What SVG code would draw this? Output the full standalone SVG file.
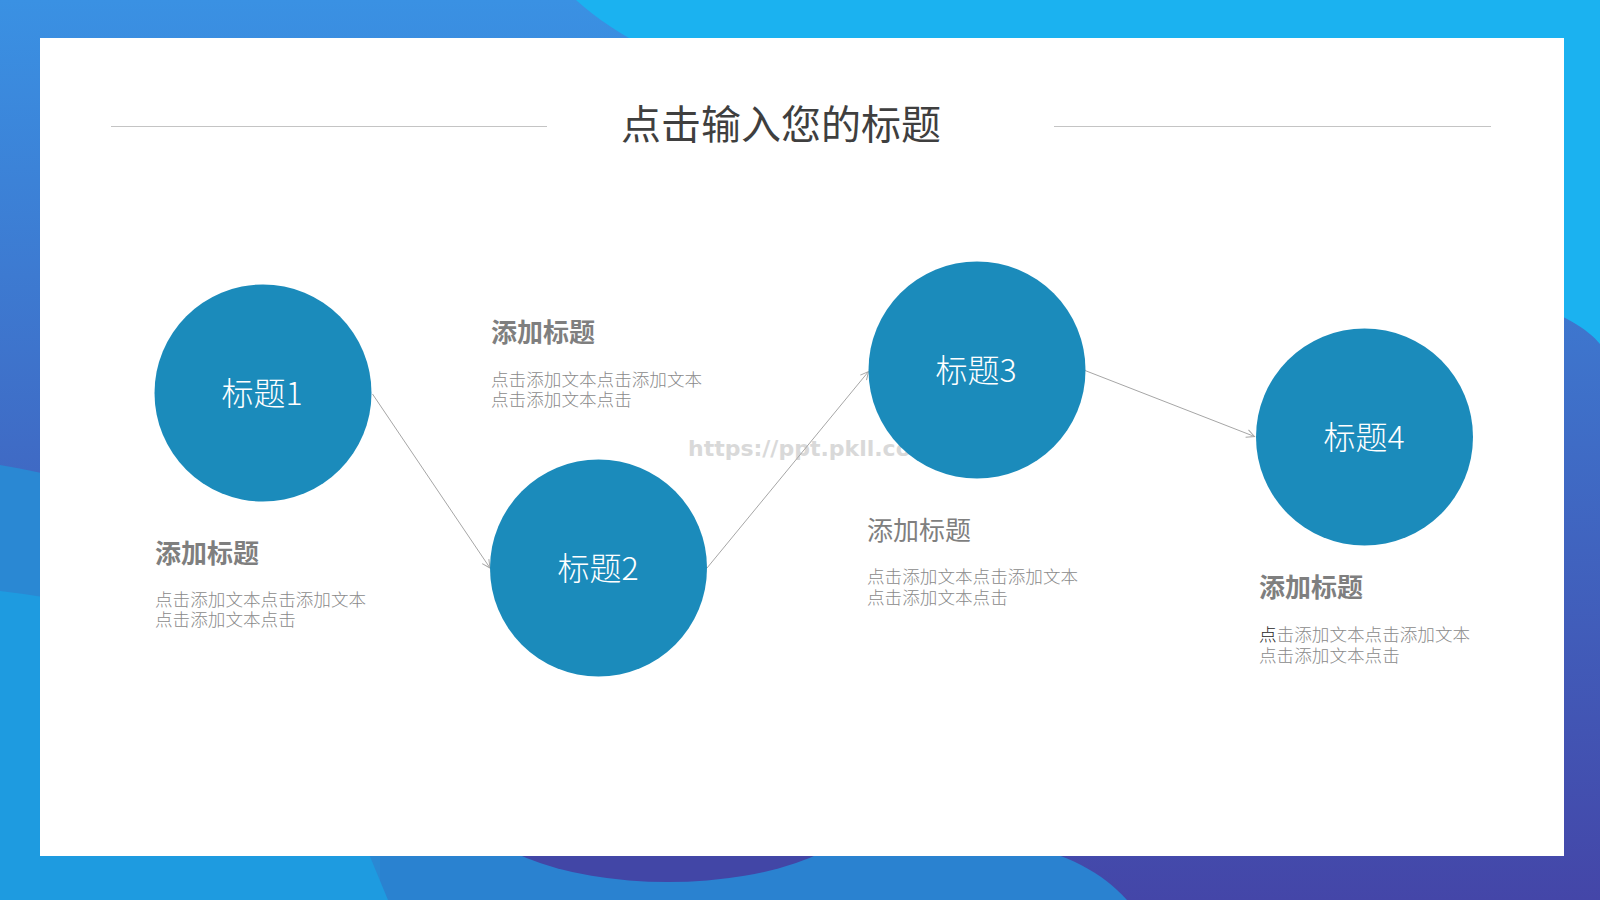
<svg xmlns="http://www.w3.org/2000/svg" width="1600" height="900" viewBox="0 0 1600 900">
  <defs>
    <linearGradient id="bg" x1="0" y1="0" x2="0" y2="1">
      <stop offset="0" stop-color="#3a91e3"/>
      <stop offset="1" stop-color="#4446a8"/>
    </linearGradient>
    <marker id="arr" markerUnits="userSpaceOnUse" markerWidth="12" markerHeight="12" refX="10" refY="6" orient="auto">
      <path d="M2,2 L10,6 L2,10" fill="none" stroke="#a6a6a6" stroke-width="1"/>
    </marker>
    <style>
      .cjk { font-family: "Noto Sans CJK SC", "Noto Sans", sans-serif; }
      .node circle { fill: #1b8bbb; }
      .node text { fill: #ffffff; font-size: 32px; font-weight: 300; text-anchor: middle; }
      .head { fill: #7f7f7f; font-size: 26px; font-weight: 700; }
      .head.light { font-weight: 400; }
      .body { fill: #8a8a8a; font-size: 17.6px; font-weight: 300; }
      .conn line { stroke: #a6a6a6; stroke-width: 1; marker-end: url(#arr); }
      .rule { stroke: #c4c4c4; stroke-width: 1; }
    </style>
  </defs>

  <g id="background">
    <rect x="0" y="0" width="1600" height="900" fill="url(#bg)"/>
    <path d="M576,0 L1600,0 L1600,344 C1520,240 760,170 576,0 Z" fill="#1bb2f0"/>
    <path d="M0,465 C220,500 380,650 420,900 L0,900 Z" fill="#2a88d3"/>
    <path d="M380,840 L1000,840 C1060,850 1100,870 1127,900 L380,900 Z" fill="#2a82d0"/>
    <ellipse cx="668" cy="800" rx="200" ry="82" fill="#4246a6"/>
    <path d="M0,591 Q250,620 330,760 L388,900 L0,900 Z" fill="#1e9be0"/>
    <rect x="40" y="38" width="1524" height="818" fill="#ffffff"/>
  </g>

  <g id="title">
    <line class="rule" x1="111" y1="126.5" x2="547" y2="126.5"/>
    <line class="rule" x1="1054" y1="126.5" x2="1491" y2="126.5"/>
    <text class="cjk" x="781" y="139" font-size="40" fill="#3f3f3f" text-anchor="middle">点击输入您的标题</text>
  </g>

  <text id="watermark" x="688" y="456" font-family="DejaVu Sans, sans-serif" font-weight="700" font-size="22" fill="#d9d9d9">https://ppt.pkll.com</text>

  <g id="connectors" class="conn">
    <line x1="372.5" y1="394" x2="490" y2="568"/>
    <line x1="707" y1="568" x2="868.5" y2="371.5"/>
    <line x1="1085" y1="370.5" x2="1254.5" y2="436.5"/>
  </g>

  <g id="node1" class="node cjk">
    <circle cx="263" cy="393" r="108.5"/>
    <text x="262" y="405">标题1</text>
  </g>
  <g id="node2" class="node cjk">
    <circle cx="598.5" cy="568" r="108.5"/>
    <text x="598" y="580">标题2</text>
  </g>
  <g id="node3" class="node cjk">
    <circle cx="977" cy="370" r="108.5"/>
    <text x="976" y="382">标题3</text>
  </g>
  <g id="node4" class="node cjk">
    <circle cx="1364.5" cy="437" r="108.5"/>
    <text x="1364" y="449">标题4</text>
  </g>

  <g id="text1" class="cjk">
    <text class="head" x="155" y="563">添加标题</text>
    <text class="body" x="155" y="606">点击添加文本点击添加文本<tspan x="155" dy="20">点击添加文本点击</tspan></text>
  </g>
  <g id="text2" class="cjk">
    <text class="head" x="491" y="342">添加标题</text>
    <text class="body" x="491" y="386">点击添加文本点击添加文本<tspan x="491" dy="20">点击添加文本点击</tspan></text>
  </g>
  <g id="text3" class="cjk">
    <text class="head light" x="867" y="540">添加标题</text>
    <text class="body" x="867" y="583">点击添加文本点击添加文本<tspan x="867" dy="21">点击添加文本点击</tspan></text>
  </g>
  <g id="text4" class="cjk">
    <text class="head" x="1259" y="597">添加标题</text>
    <text class="body" x="1259" y="641"><tspan fill="#262626">点</tspan>击添加文本点击添加文本<tspan x="1259" dy="21">点击添加文本点击</tspan></text>
  </g>
</svg>
